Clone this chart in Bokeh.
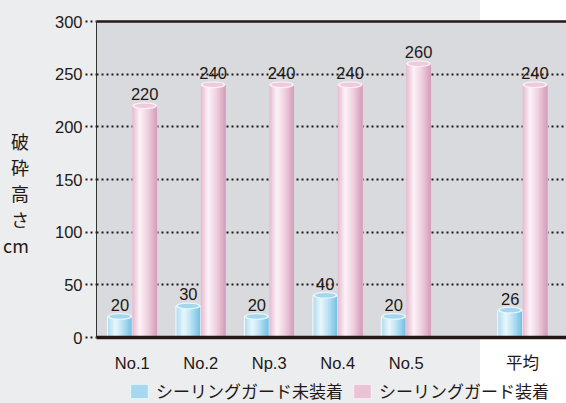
from bokeh.plotting import figure
from bokeh.layouts import column
from bokeh.models import (ColumnDataSource, FixedTicker, LinearAxis, Range1d,
                          Legend, LegendItem)
from bokeh.core.properties import value
from bokeh.embed import file_html
from bokeh.resources import INLINE

# ---------------- data ----------------
categories = ["No.1", "No.2", "Np.3", "No.4", "No.5", "平均"]
without_guard = [20, 30, 20, 40, 20, 26]
with_guard = [220, 240, 240, 240, 260, 240]
series_names = ["シーリングガード未装着", "シーリングガード装着"]
y_ticks = [0, 50, 100, 150, 200, 250, 300]
y_title = "破砕高さ"
y_unit = "cm"

# ---------------- layout / style ----------------
GAP_BEFORE_AVG = 0.7
xpos = [i + 1 + (GAP_BEFORE_AVG if c == "平均" else 0) for i, c in enumerate(categories)]
BAR_W = 0.362
PAGE_BG = "#ECEDEF"
FRAME_BG = "#D9DADD"
INK = "#231815"
NUM_FONT = "Liberation Sans"
JP_FONT = "Noto Sans CJK JP"
BG_STYLE = {"background": f"linear-gradient(90deg, {PAGE_BG} 0px, {PAGE_BG} 480px, #FFFFFF 480px)"}

BLUE_STOPS = [(0.0, "#AEDBF0"), (0.32, "#EAF7FC"), (0.6, "#BCE3F4"), (1.0, "#6CBEE4")]
PINK_STOPS = [(0.0, "#E6B9CF"), (0.3, "#FCF2F7"), (0.62, "#F0D1E0"), (1.0, "#D49BBA")]


def hex2rgb(h):
    h = h.lstrip("#")
    return tuple(int(h[i:i + 2], 16) for i in (0, 2, 4))


def interp(stops, t):
    for (t0, c0), (t1, c1) in zip(stops[:-1], stops[1:]):
        if t0 <= t <= t1:
            f = (t - t0) / (t1 - t0)
            a, b = hex2rgb(c0), hex2rgb(c1)
            return "#%02x%02x%02x" % tuple(round(a[k] + (b[k] - a[k]) * f) for k in range(3))
    return stops[-1][1]


W, H_MAIN, H_LEG = 566, 374, 29
p = figure(width=W, height=H_MAIN, output_backend="svg", toolbar_location=None,
           x_range=Range1d(0.4775, 7.342), y_range=Range1d(0, 300),
           min_border_left=93, min_border_right=0, min_border_top=21, min_border_bottom=36)
p.background_fill_color = FRAME_BG
p.border_fill_alpha = 0
p.outline_line_color = None
p.styles = BG_STYLE

# grid
p.xgrid.grid_line_color = None
p.ygrid.ticker = FixedTicker(ticks=y_ticks)
p.ygrid.grid_line_color = INK
p.ygrid.grid_line_width = 2
p.ygrid.grid_line_dash = "2 3"


def cylinder(vals, center_off, stops, rim, inner, outline=None, n=18):
    left = center_off - BAR_W / 2
    right = center_off + BAR_W / 2
    for i in range(n):
        l = left + BAR_W * i / n
        src = ColumnDataSource(dict(x=[xp + (l + right) / 2 for xp in xpos], top=vals))
        p.vbar(x="x", top="top", bottom=0, width=right - l, source=src,
               fill_color=interp(stops, (i + 0.5) / n), line_color=None)
    xs = [xp + center_off for xp in xpos]
    if outline:
        p.vbar(x=xs, top=vals, bottom=0, width=BAR_W, fill_color=None,
               line_color=outline, line_width=1)
    p.ellipse(x=xs, y=vals, width=BAR_W, height=7, height_units="screen",
              fill_color=rim, line_color=None)
    p.ellipse(x=xs, y=vals, width=BAR_W * 0.84, height=4.5, height_units="screen",
              fill_color=inner, line_color=None)


cylinder(without_guard, -BAR_W / 2, BLUE_STOPS, "#E8F6FC", "#A3D7EF", outline="#F4FBFE")
cylinder(with_guard, BAR_W / 2, PINK_STOPS, "#FBEFF5", "#EECADB")

# value labels
for vals, off in [(without_guard, -BAR_W / 2), (with_guard, BAR_W / 2)]:
    src = ColumnDataSource(dict(x=[xp + off for xp in xpos], y=vals, t=[str(v) for v in vals]))
    p.text(x="x", y="y", text="t", source=src, text_align="center", text_baseline="bottom",
           y_offset=-5.5, text_font=value(NUM_FONT), text_font_size="16.5px", text_color=INK)

# y axis
yax = p.yaxis[0]
yax.ticker = FixedTicker(ticks=y_ticks)
yax.axis_line_color = "#333333"
yax.axis_line_width = 1
yax.major_tick_in = 0
yax.major_tick_out = 11
yax.major_tick_line_color = INK
yax.major_tick_line_width = 2
yax.major_tick_line_dash = "2 3"
yax.minor_tick_line_color = None
yax.major_label_standoff = 3
yax.major_label_text_font = NUM_FONT
yax.major_label_text_font_size = "16.5px"
yax.major_label_text_color = INK
yax.axis_label = "\n" + "\n".join(list(y_title) + [y_unit])
yax.axis_label_orientation = "horizontal"
yax.axis_label_standoff = 23
yax.axis_label_text_font = JP_FONT
yax.axis_label_text_font_size = "18px"
yax.axis_label_text_font_style = "normal"
yax.axis_label_text_line_height = 1.0
yax.axis_label_text_color = INK

# x axis
xax = p.xaxis[0]
xax.ticker = FixedTicker(ticks=xpos)
xax.major_label_overrides = {xp: c for xp, c in zip(xpos, categories)}
xax.axis_line_color = INK
xax.axis_line_width = 3.5
xax.major_tick_in = 0
xax.major_tick_out = 0
xax.major_tick_line_color = None
xax.minor_tick_line_color = None
xax.major_label_standoff = 16
xax.major_label_text_font = f"{NUM_FONT}, {JP_FONT}"
xax.major_label_text_font_size = "16.5px"
xax.major_label_text_color = INK

# top border
top_axis = LinearAxis(ticker=FixedTicker(ticks=[]), axis_line_color=INK, axis_line_width=2.5,
                      major_tick_in=0, major_tick_out=0,
                      major_tick_line_color=None, minor_tick_line_color=None,
                      major_label_text_alpha=0)
p.add_layout(top_axis, "above")

# ---------------- legend strip ----------------
lf = figure(width=W, height=H_LEG, output_backend="svg", toolbar_location=None,
            x_axis_type=None, y_axis_type=None, x_range=Range1d(0, 1), y_range=Range1d(0, 1),
            min_border=0)
lf.background_fill_alpha = 0
lf.border_fill_alpha = 0
lf.outline_line_color = None
lf.grid.grid_line_color = None
lf.styles = BG_STYLE
# hidden proxies that only lend their style to the legend swatches
leg_blue = lf.vbar(x=xpos, top=without_guard, width=0.1, fill_color="#A6D8EF",
                   line_color="#E8F6FC", visible=False)
leg_pink = lf.vbar(x=xpos, top=with_guard, width=0.1, fill_color="#EAC3D7",
                   line_color="#FBEFF5", visible=False)
legend = Legend(items=[LegendItem(label=series_names[0], renderers=[leg_blue]),
                       LegendItem(label=series_names[1], renderers=[leg_pink])],
                location=(32, 0), orientation="horizontal", glyph_width=22, glyph_height=18,
                label_standoff=6, spacing=8, padding=0, margin=0, label_height=18,
                label_text_font=JP_FONT, label_text_font_size="17px", label_text_color=INK,
                background_fill_alpha=0, border_line_color=None)
lf.add_layout(legend)

page = column(p, lf, spacing=0)
open("out.html", "w").write(file_html(page, INLINE))
